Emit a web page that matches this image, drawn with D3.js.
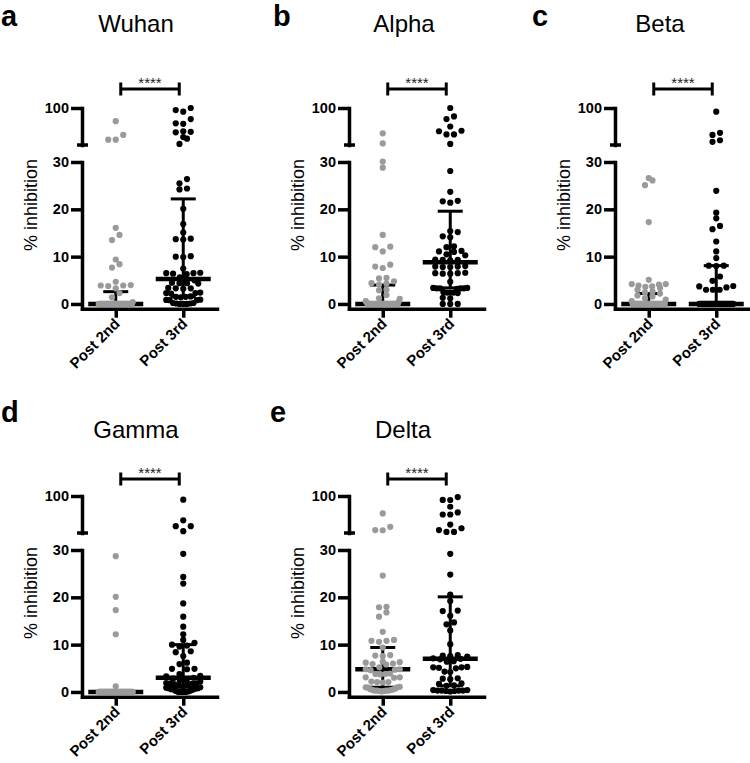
<!DOCTYPE html>
<html><head><meta charset="utf-8">
<script src="https://cdn.jsdelivr.net/npm/d3@7"></script>
<style>body{margin:0;background:#fff} svg{display:block}</style>
</head><body><svg id="chart" width="750" height="763"></svg>
<script>
// ---------- data ----------
const variants = ["Wuhan", "Alpha", "Beta", "Gamma", "Delta"];
const panelLetters = ["a", "b", "c", "d", "e"];
const groups = ["Post 2nd", "Post 3rd"];
const sigLabels = ["****", "****", "****", "****", "****"];
const lowerTicks = [0, 10, 20, 30];
const upperTicks = [100];
const yAxisLabel = "% inhibition";

const wuhan2 = [75, 49, 40, 40, 16.1, 14.6, 13.5, 9.4, 8.4, 7.7, 4.7, 3.9, 3.9, 3.8, 4.0, 3.3, 2.3, 1.4, 0.4,
  0,0,0,0,0,0,0,0,0,0,0,0,0,0,0,0,0,0,0,0,0,0,0,0,0,0,0,0,0,0,0,0,0,0,0,0,0,0,0,0];
const wuhan3 = [100, 96, 93, 79, 71, 70, 56, 55, 54, 45, 42, 32, 26.4, 25.5, 24.4, 24.2, 20.1, 16.9, 15.1,
  13.8, 13.7, 13.6, 10.1, 10.0, 9.9, 7.5, 6.6, 6.5, 6.5, 6.4, 6.3, 5.6, 5.0, 4.5, 4.4, 4.4, 4.3, 3.4, 3.3,
  3.3, 3.2, 2.4, 2.3, 2.3, 2.2, 1.6, 1.5, 1.5, 1.4, 0.9, 0.85, 0.8, 0.8, 0.2, 0.2, 0.1, 0.1, 0, 0, 0];
const alpha2 = [52, 33, 30.1, 28.8, 14.6, 12.1, 12.0, 11.1, 8.3, 7.9, 7.6, 5.5, 5.4, 4.8, 4.4, 4.3, 4.1,
  3.0, 2.9, 1.9, 1.2, 1.1, 0.6, 0.5, 0.3,
  0,0,0,0,0,0,0,0,0,0,0,0,0,0,0,0,0,0,0,0,0,0,0,0,0,0,0,0,0,0,0,0];
const alpha3 = [100, 84, 79, 65, 57, 56, 50, 50, 32, 28.1, 23.7, 21.8, 21.7, 21.4, 15.4, 15.2, 14.3, 14.1,
  12.2, 12.0, 11.2, 11.1, 11.0, 10.5, 10.3, 9.4, 9.3, 9.3, 9.2, 8.0, 7.9, 7.9, 7.8, 7.8, 6.6, 6.5, 6.5,
  6.4, 6.4, 4.7, 3.4, 3.3, 3.3, 3.3, 3.2, 3.3, 3.4, 2.5, 2.4, 2.4, 2.3, 2.4, 1.2, 1.3, 0, 0, 0];
const beta2 = [26.6, 26.1, 25.1, 17.3, 5.1, 4.2, 4.2, 4.1, 3.9, 3.7, 3.6, 3.4, 3.0, 2.6, 2.4, 2.2, 1.8, 1.6,
  1.2, 0.9, 0.6,
  0,0,0,0,0,0,0,0,0,0,0,0,0,0,0,0,0,0,0,0,0,0,0,0,0,0,0,0,0,0,0,0,0,0,0];
const beta3 = [93, 53, 49, 39, 36, 23.9, 19.3, 18.1, 16.5, 15.8, 13.2, 11.1, 9.7, 8.1, 8.1, 8.0, 5.8, 4.9,
  3.8, 3.7, 3.5, 3.0, 3.0, 3.0,
  0,0,0,0,0,0,0,0,0,0,0,0,0,0,0,0,0,0,0,0,0,0,0,0,0,0,0,0,0,0,0,0];
const gamma2 = [28.7, 20.1, 17.3, 12.2, 1.2,
  0,0,0,0,0,0,0,0,0,0,0,0,0,0,0,0,0,0,0,0,0,0,0,0,0,0,0,0,0,0,0,0,0,0,0,0,0,0,0,0,0,0,0,0,0,0,0,0,0,0,0];
const gamma3 = [93, 54, 43, 43, 33.5, 29.2, 24.3, 22.9, 18.7, 15.9, 13.8, 12.2, 11.0, 10.4, 10.0, 9.8, 9.6,
  8.6, 8.4, 7.6, 6.2, 5.9, 4.9, 4.9, 4.8, 3.8, 3.4, 3.3, 3.0, 2.8, 2.5, 2.5, 2.2, 1.9, 1.8, 1.8, 1.7, 1.6,
  1.6, 1.4, 1.2, 1.0, 0.9, 0.8, 0.8, 0.7, 0.6, 0.5, 0.5, 0.3, 0.2, 0.1, 0, 0, 0, 0];
const delta2 = [67, 41.6, 35.5, 35.2, 24.6, 18.0, 17.9, 16.8, 15.9, 12.7, 10.8, 10.8, 10.6, 11.0, 9.4, 7.7,
  7.6, 7.8, 6.3, 6.2, 6.4, 5.9, 5.8, 6.0, 5.2, 4.8, 4.8, 4.7, 4.6, 3.8, 3.8, 3.9, 3.7, 3.1, 3.1, 3.0, 2.1,
  2.1, 2.2, 2.0, 1.0, 1.0, 1.1, 0.9, 0.7, 0.6, 0.5, 0.4, 0.3, 0.3, 0.4, 0.2, 0.3, 0.2, 0.3, 0.1];
const delta3 = [98, 92.6, 92.4, 79.7, 69, 65, 65, 46, 39, 35.5, 32, 32, 29.2, 24.8, 20.6, 19.2, 17.2, 17.1,
  16.1, 14.7, 14.3, 13.0, 10.1, 7.6, 7.7, 7.5, 7.8, 7.0, 7.1, 6.9, 6.5, 6.4, 5.2, 5.3, 5.1, 5.2, 5.0, 4.2,
  4.3, 2.8, 2.9, 2.7, 1.7, 1.8, 1.4, 1.3, 0.4, 0.3, 0.3, 0.2, 0.4, 0.3, 0.2, 0.1, 0.3];

const post2nd = [wuhan2, alpha2, beta2, gamma2, delta2];
const post3rd = [wuhan3, alpha3, beta3, gamma3, delta3];
const median2 = [0, 0, 0, 0, 4.8];
const q1_2 = [0, 0, 0, 0, 1.0];
const q3_2 = [2.6, 4.0, 2.2, 0, 9.4];
const median3 = [5.3, 8.8, 0, 3.0, 7.0];
const q1_3 = [1.5, 3.4, 0, 1.0, 1.3];
const q3_3 = [22.2, 19.6, 8.1, 10.0, 20.1];

// ---------- layout ----------
const FONT = "'Liberation Sans', Arial, Helvetica, sans-serif";
const colors = ["#9a9a9a", "#000000"];
const colX = [82, 349, 615, 82, 349];
const rowIdx = [0, 0, 0, 1, 1];
const rowDY = [0, 388];
const titleDX = [54, 55, 45, 54, 54];
const titleY = [32, 438];
const letterX = [1, 273, 532, 1, 270];
const letterY = [26, 422];
const bracketY = [89, 479];
const AXW = 3.5;

const svg = d3.select("#chart");

function swarm(vals, yPix, gap, maxHalf, rowH) {
  const pts = vals.map(v => ({ v, y: yPix(v) })).sort((a, b) => b.y - a.y);
  const out = [];
  let row = [], rowStart = null;
  const flush = () => {
    const k = row.length;
    if (!k) return;
    const sp = k > 1 ? Math.min(gap, 2 * maxHalf / (k - 1)) : 0;
    const offs = d3.range(k).map(i => (i - (k - 1) / 2) * sp)
      .sort((a, b) => Math.abs(a) - Math.abs(b) || a - b);
    const byVal = row.slice().sort((a, b) => a.v - b.v);
    byVal.forEach((p, i) => { p.dx = offs[i]; out.push(p); });
    row = [];
  };
  for (const p of pts) {
    if (rowStart !== null && rowStart - p.y > rowH) flush();
    if (row.length === 0) rowStart = p.y;
    row.push(p);
  }
  flush();
  return out;
}

function styleAxis(g) {
  g.select(".domain").attr("stroke", "#000").attr("stroke-width", AXW).attr("stroke-linecap", "square");
  g.selectAll(".tick line").attr("stroke", "#000").attr("stroke-width", AXW);
  g.selectAll(".tick text").attr("fill", "#000").attr("font-family", FONT)
    .attr("font-weight", "bold").attr("font-size", 14.5);
}

variants.forEach((name, i) => {
  const ax = colX[i];
  const r = rowIdx[i];
  const dy = rowDY[r];
  const g = svg.append("g");

  const x = d3.scalePoint().domain(groups).range([ax, ax + 135]).padding(0.5);
  const yLow = d3.scaleLinear().domain([-1, 30]).range([308.7 + dy, 162 + dy]);
  const yUp = d3.scaleLinear().domain([30, 100]).range([145 + dy, 108 + dy]);
  const yPix = v => (v > 30.5 ? yUp(v) : yLow(v));

  // letter & title
  g.append("text").attr("x", letterX[i]).attr("y", letterY[r]).text(panelLetters[i])
    .attr("font-family", FONT).attr("font-weight", "bold").attr("font-size", 29);
  g.append("text").attr("x", ax + titleDX[i]).attr("y", titleY[r]).text(name)
    .attr("text-anchor", "middle").attr("font-family", FONT).attr("font-size", 24);

  // y label
  g.append("text").attr("transform", `translate(${ax - 45},${205 + dy}) rotate(-90)`)
    .attr("text-anchor", "middle").attr("font-family", FONT).attr("font-size", 18).text(yAxisLabel);

  // axes
  g.append("g").attr("transform", `translate(${ax},0)`)
    .call(d3.axisLeft(yLow).tickValues(lowerTicks).tickSize(11).tickSizeOuter(0).tickPadding(2))
    .call(styleAxis);
  g.append("g").attr("transform", `translate(${ax},0)`)
    .call(d3.axisLeft(yUp).tickValues(upperTicks).tickSize(11).tickSizeOuter(0).tickPadding(2))
    .call(styleAxis);
  g.append("line").attr("x1", ax - 5).attr("x2", ax + 6).attr("y1", yUp(30)).attr("y2", yUp(30))
    .attr("stroke", "#000").attr("stroke-width", AXW);

  g.append("g").attr("transform", `translate(0,${yLow(-1)})`)
    .call(d3.axisBottom(x).tickSize(9).tickSizeOuter(0).tickFormat(""))
    .call(styleAxis);
  groups.forEach(gr => {
    g.append("text")
      .attr("transform", `translate(${x(gr) + 5},${yLow(-1) + 16}) rotate(-45)`)
      .attr("text-anchor", "end").attr("font-family", FONT).attr("font-weight", "bold")
      .attr("font-size", 15).text(gr);
  });

  // median + IQR
  const stats = [[median2[i], q1_2[i], q3_2[i]], [median3[i], q1_3[i], q3_3[i]]];
  groups.forEach((gr, j) => {
    const cx = x(gr);
    const [m, q1, q3] = stats[j];
    g.append("line").attr("x1", cx).attr("x2", cx).attr("y1", yPix(q1)).attr("y2", yPix(q3))
      .attr("stroke", "#000").attr("stroke-width", 3);
    [q1, q3].forEach(q => g.append("line").attr("x1", cx - 12.5).attr("x2", cx + 12.5)
      .attr("y1", yPix(q)).attr("y2", yPix(q)).attr("stroke", "#000").attr("stroke-width", 3));
    g.append("line").attr("x1", cx - 27.5).attr("x2", cx + 27.5).attr("y1", yPix(m)).attr("y2", yPix(m))
      .attr("stroke", "#000").attr("stroke-width", 4.5);
  });

  // points
  [post2nd[i], post3rd[i]].forEach((vals, j) => {
    const cx = x(groups[j]);
    const pts = swarm(vals, yPix, 7.5, 17, 5.5);
    g.append("g").selectAll("circle").data(pts).join("circle")
      .attr("cx", d => cx + d.dx).attr("cy", d => d.y).attr("r", 3.1).attr("fill", colors[j]);
  });

  // significance bracket
  const by = bracketY[r];
  const bx1 = x(groups[0]) + 5, bx2 = x(groups[1]) - 4;
  g.append("line").attr("x1", bx1).attr("x2", bx2).attr("y1", by).attr("y2", by)
    .attr("stroke", "#000").attr("stroke-width", 3);
  [bx1, bx2].forEach(bx => g.append("line").attr("x1", bx).attr("x2", bx)
    .attr("y1", by - 6.5).attr("y2", by + 6.5).attr("stroke", "#000").attr("stroke-width", 3));
  g.append("text").attr("x", (bx1 + bx2) / 2).attr("y", by - 1).attr("text-anchor", "middle")
    .attr("font-family", FONT).attr("font-size", 15).attr("fill", "#222").text(sigLabels[i]);
});
</script></body></html>
